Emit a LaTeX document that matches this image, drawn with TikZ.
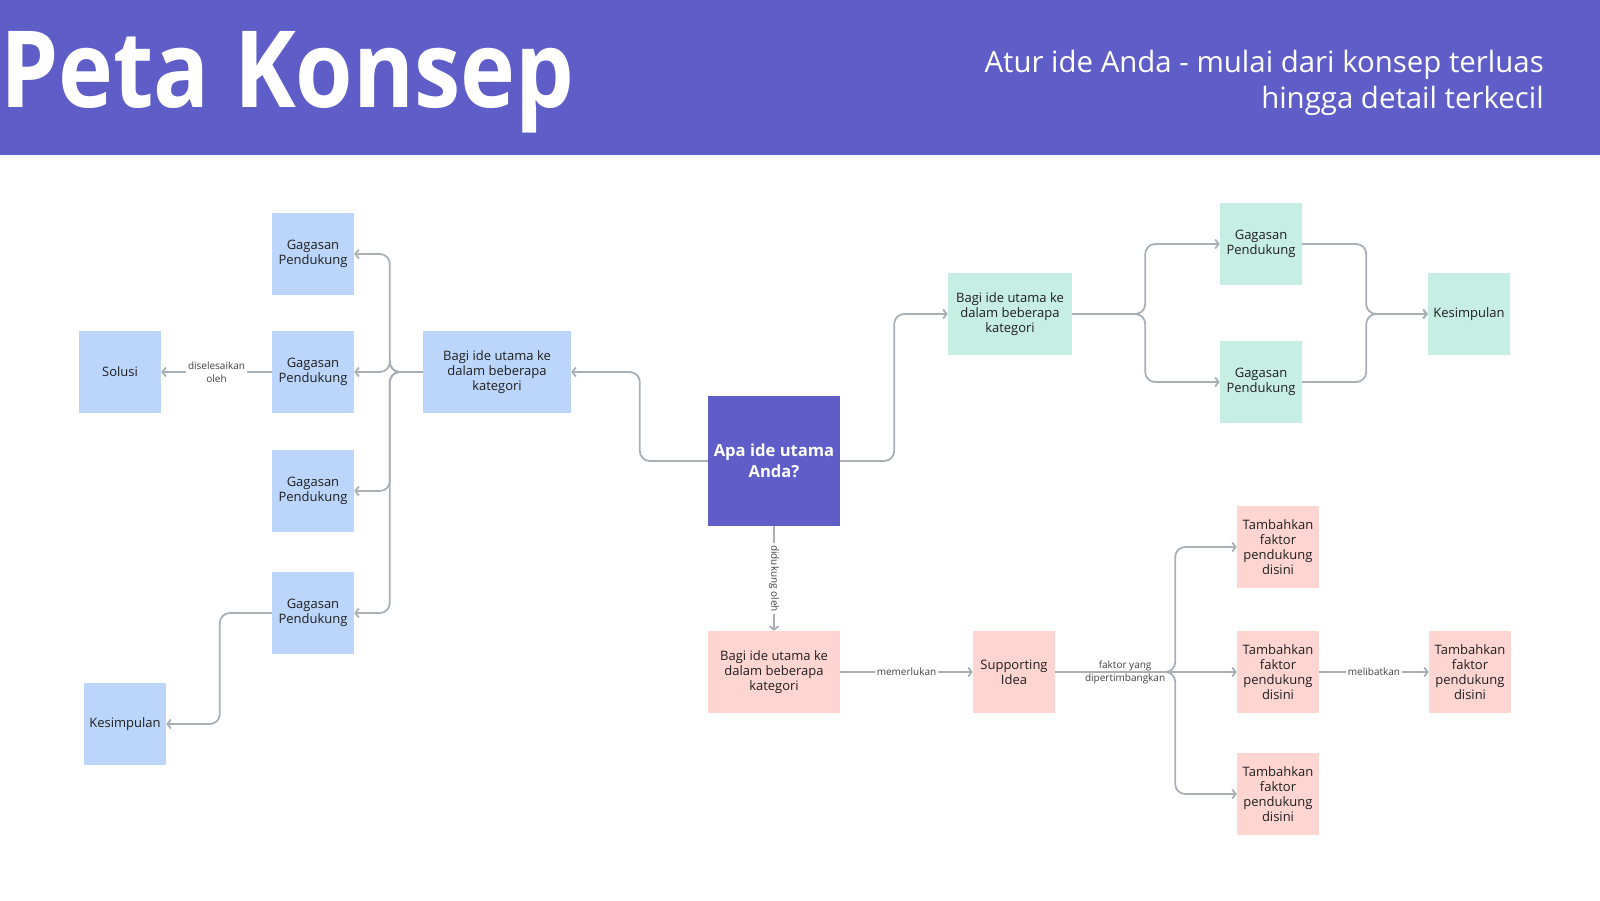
\documentclass[tikz,border=0pt]{standalone}
\usepackage{fontspec}
\setmainfont{Open Sans}
\usepackage{graphicx}
\usepackage{tikz}
\usetikzlibrary{positioning,calc,arrows.meta}

\definecolor{ungu}{HTML}{5F5EC8}
\definecolor{biru}{HTML}{BCD5FB}
\definecolor{hijau}{HTML}{C7EEE3}
\definecolor{merah}{HTML}{FFD5D1}
\definecolor{abu}{HTML}{A8B0B5}
\definecolor{teks}{HTML}{1F1F1F}

\begin{document}
\begin{tikzpicture}[x=1pt,y=-1pt,
    kotak/.style={minimum width=82pt,minimum height=82pt,inner sep=2pt,align=center,text=teks,font=\fontsize{13}{15}\selectfont},
    kotakbiru/.style={kotak,fill=biru},
    kotakhijau/.style={kotak,fill=hijau},
    kotakmerah/.style={kotak,fill=merah},
    garis/.style={draw=abu,line width=1.8pt,rounded corners=10pt,-{Straight Barb[length=3.5pt,width=9pt]}},
    ket/.style={fill=white,inner sep=2pt,align=center,text=teks!85,font=\fontsize{10}{13}\selectfont}]
    \useasboundingbox (0,0) rectangle (1600,900);

    % header
    \fill[ungu] (0,0) rectangle (1600,155);
    \node[anchor=base west,inner sep=0,text=white] (judul) at (0,107) {\resizebox{574pt}{76pt}{\bfseries Peta Konsep}};
    \node[anchor=base east,inner sep=0,text=white,font=\fontsize{29.4}{36}\selectfont] (sub1) at (1544,72) {Atur ide Anda - mulai dari konsep terluas};
    \node[anchor=base east,inner sep=0,text=white,font=\fontsize{29.4}{36}\selectfont] (sub2) at (1544,108) {hingga detail terkecil};

    % ide utama
    \node[fill=ungu,minimum width=132pt,minimum height=130pt,align=center,text=white,font=\bfseries\fontsize{16.6}{21}\selectfont] (utama) at (774,461) {Apa ide utama\\Anda?};

    % cabang kiri
    \node[kotakbiru,minimum width=148pt] (bagiKiri) at (497,372) {Bagi ide utama ke\\dalam beberapa\\kategori};
    \node[kotakbiru] (gpA) at (313,254) {Gagasan\\Pendukung};
    \node[kotakbiru] (gpB) at (313,372) {Gagasan\\Pendukung};
    \node[kotakbiru] (gpC) at (313,491) {Gagasan\\Pendukung};
    \node[kotakbiru] (gpD) at (313,613) {Gagasan\\Pendukung};
    \node[kotakbiru] (solusi) at (120,372) {Solusi};
    \node[kotakbiru] (kesKiri) at (125,724) {Kesimpulan};

    % cabang kanan
    \node[kotakhijau,minimum width=124pt] (bagiKanan) at (1010,314) {Bagi ide utama ke\\dalam beberapa\\kategori};
    \node[kotakhijau] (gpE) at (1261,244) {Gagasan\\Pendukung};
    \node[kotakhijau] (gpF) at (1261,382) {Gagasan\\Pendukung};
    \node[kotakhijau] (kesKanan) at (1469,314) {Kesimpulan};

    % cabang bawah
    \node[kotakmerah,minimum width=132pt] (bagiBawah) at (774,672) {Bagi ide utama ke\\dalam beberapa\\kategori};
    \node[kotakmerah] (pendukung) at (1014,672) {Supporting\\Idea};
    \node[kotakmerah] (tbA) at (1278,547) {Tambahkan\\faktor\\pendukung\\disini};
    \node[kotakmerah] (tbB) at (1278,672) {Tambahkan\\faktor\\pendukung\\disini};
    \node[kotakmerah] (tbC) at (1278,794) {Tambahkan\\faktor\\pendukung\\disini};
    \node[kotakmerah] (tbD) at (1470,672) {Tambahkan\\faktor\\pendukung\\disini};

    % garis
    \draw[garis] (utama.west) -- ++(-68,0) |- (bagiKiri.east);
    \draw[garis] (utama.east) -- ++(54,0) |- (bagiKanan.west);
    \draw[garis] (utama.south) -- (bagiBawah.north) node[ket,midway,rotate=-90] {didukung oleh};

    \foreach \g in {gpA,gpB,gpC,gpD}
        \draw[garis] (bagiKiri.west) -- ++(-33,0) |- (\g.east);
    \draw[garis] (gpB.west) -- (solusi.east) node[ket,midway] {diselesaikan\\oleh};
    \draw[garis] (gpD.west) -- ++(-52,0) |- (kesKiri.east);

    \foreach \g in {gpE,gpF} {
        \draw[garis] (bagiKanan.east) -- ++(73,0) |- (\g.west);
        \draw[garis] (\g.east) -- ++(64,0) |- (kesKanan.west);
    }

    \draw[garis] (bagiBawah.east) -- (pendukung.west) node[ket,midway] {memerlukan};
    \draw[garis] (pendukung.east) -- (tbB.west) node[ket,pos=0.385] {faktor yang\\dipertimbangkan};
    \draw[garis] (pendukung.east) -- ++(120,0) |- (tbA.west);
    \draw[garis] (pendukung.east) -- ++(120,0) |- (tbC.west);
    \draw[garis] (tbB.east) -- (tbD.west) node[ket,midway] {melibatkan};
\end{tikzpicture}
\end{document}
